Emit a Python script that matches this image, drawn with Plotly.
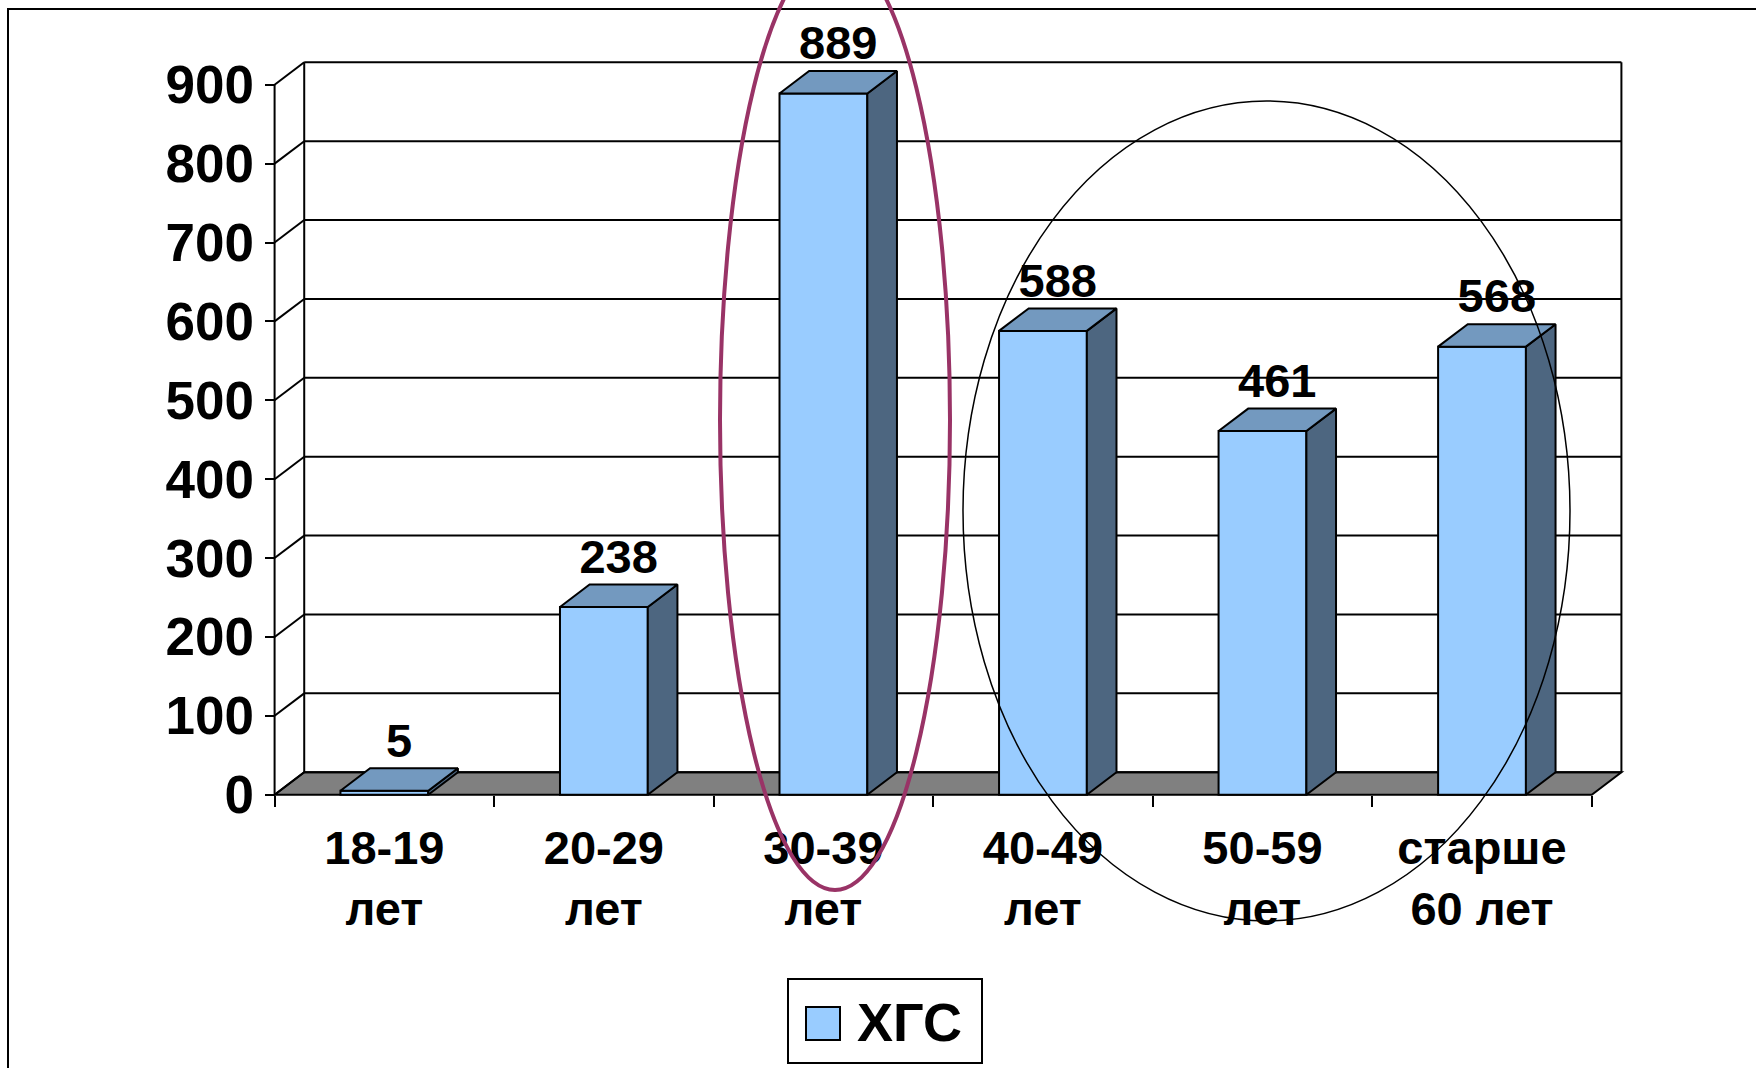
import plotly.graph_objects as go

# ---- data -------------------------------------------------------------
categories = ["18-19<br>лет", "20-29<br>лет", "30-39<br>лет",
              "40-49<br>лет", "50-59<br>лет", "старше<br>60 лет"]
values = [5, 238, 889, 588, 461, 568]
series_name = "ХГС"
y_ticks = [0, 100, 200, 300, 400, 500, 600, 700, 800, 900]

# ---- styling ----------------------------------------------------------
FONT = "Liberation Sans, Arial, sans-serif"
FRONT = "#99CCFF"
TOP = "#7399BF"
SIDE = "#4D6680"
FLOOR = "#808080"
PURPLE = "#993366"
LW = 2

W, H = 1756, 1068
M_L, M_R, M_T, M_B = 268, 128, 56, 267

BAR_W = 0.4          # bar width in category units
DX = 0.135           # depth of the 3-D box along x (category units)
DY = 28.5            # depth of the 3-D box along y (value units)
n = len(categories)
x_first, x_last = -0.5, n - 0.5
y_top = y_ticks[-1]
X_LO, X_HI = x_first - 0.03, x_last + DX + 0.03
Y_LO, Y_HI = -8, y_top + DY + 8

xs = list(range(n))


def px_to_paper(px, py):
    """Convert a pixel position on the page to paper coordinates."""
    pw = W - M_L - M_R
    ph = H - M_T - M_B
    return (px - M_L) / pw, (H - M_B - py) / ph


fig = go.Figure()

# front faces of the columns
fig.add_trace(go.Bar(
    x=xs, y=values, width=BAR_W, name=series_name,
    marker=dict(color=FRONT, line=dict(color="black", width=LW)),
    showlegend=False, hoverinfo="skip",
))

# top and side faces of the columns
top_x, top_y, side_x, side_y = [], [], [], []
for i, v in zip(xs, values):
    l, r = i - BAR_W / 2, i + BAR_W / 2
    top_x += [l, r, r + DX, l + DX, l, None]
    top_y += [v, v, v + DY, v + DY, v, None]
    side_x += [r, r + DX, r + DX, r, r, None]
    side_y += [0, DY, v + DY, v, 0, None]

fig.add_trace(go.Scatter(
    x=side_x, y=side_y, mode="lines", fill="toself", fillcolor=SIDE,
    line=dict(color="black", width=LW), showlegend=False, hoverinfo="skip",
))
fig.add_trace(go.Scatter(
    x=top_x, y=top_y, mode="lines", fill="toself", fillcolor=TOP,
    line=dict(color="black", width=LW), showlegend=False, hoverinfo="skip",
))

# value labels above each column
fig.add_trace(go.Scatter(
    x=[i + DX / 2 for i in xs], y=[v + DY for v in values],
    text=[str(v) for v in values], mode="text", textposition="top center",
    textfont=dict(family=FONT, size=47, color="black", weight="bold"),
    cliponaxis=False, showlegend=False, hoverinfo="skip",
))

# ---- 3-D frame: floor, walls and gridlines ----------------------------
shapes = []
shapes.append(dict(
    type="path", xref="x", yref="y", layer="below",
    path=(f"M {x_first},0 L {x_last},0 L {x_last + DX},{DY} "
          f"L {x_first + DX},{DY} Z"),
    fillcolor=FLOOR, line=dict(color="black", width=LW),
))


def seg(x0, y0, x1, y1):
    return dict(type="line", xref="x", yref="y", layer="below",
                x0=x0, y0=y0, x1=x1, y1=y1,
                line=dict(color="black", width=LW))


shapes.append(seg(x_first, 0, x_first, y_top))
shapes.append(seg(x_first + DX, DY, x_first + DX, y_top + DY))
shapes.append(seg(x_last + DX, DY, x_last + DX, y_top + DY))
for t in y_ticks:
    shapes.append(seg(x_first, t, x_first + DX, t + DY))
    shapes.append(seg(x_first + DX, t + DY, x_last + DX, t + DY))

# ---- outer frame ------------------------------------------------------
bx0, by0 = px_to_paper(8, 1080)
bx1, by1 = px_to_paper(1770, 9)
shapes.append(dict(type="rect", xref="paper", yref="paper",
                   x0=bx0, y0=by0, x1=bx1, y1=by1,
                   line=dict(color="black", width=LW)))

# ---- highlight ellipses -----------------------------------------------
ex0, ey0 = px_to_paper(720, 890)
ex1, ey1 = px_to_paper(950, -50)
shapes.append(dict(type="circle", xref="paper", yref="paper",
                   x0=ex0, y0=ey0, x1=ex1, y1=ey1,
                   line=dict(color=PURPLE, width=4)))
ex0, ey0 = px_to_paper(963, 921)
ex1, ey1 = px_to_paper(1570, 101)
shapes.append(dict(type="circle", xref="paper", yref="paper",
                   x0=ex0, y0=ey0, x1=ex1, y1=ey1,
                   line=dict(color="black", width=1.5)))

# ---- legend box -------------------------------------------------------
lx0, ly0 = px_to_paper(788, 1063)
lx1, ly1 = px_to_paper(982, 979)
shapes.append(dict(type="rect", xref="paper", yref="paper",
                   x0=lx0, y0=ly0, x1=lx1, y1=ly1, fillcolor="white",
                   line=dict(color="black", width=LW)))
sx0, sy0 = px_to_paper(806, 1040)
sx1, sy1 = px_to_paper(840, 1007)
shapes.append(dict(type="rect", xref="paper", yref="paper",
                   x0=sx0, y0=sy0, x1=sx1, y1=sy1, fillcolor=FRONT,
                   line=dict(color="black", width=LW)))
tx, ty = px_to_paper(855, 1022)
annotations = [dict(
    xref="paper", yref="paper", x=tx, y=ty, xanchor="left", yanchor="middle",
    text=series_name, showarrow=False,
    font=dict(family=FONT, size=54, color="black", weight="bold"),
)]

fig.update_layout(
    width=W, height=H,
    margin=dict(l=M_L, r=M_R, t=M_T, b=M_B, pad=0),
    paper_bgcolor="white", plot_bgcolor="white",
    showlegend=False,
    shapes=shapes, annotations=annotations,
    xaxis=dict(
        range=[X_LO, X_HI], tickmode="array", tickvals=xs, ticktext=categories,
        ticks="", showgrid=False, zeroline=False, showline=False,
        anchor="free", position=(0 - Y_LO) / (Y_HI - Y_LO),
        ticklabelstandoff=21,
        tickfont=dict(family=FONT, size=47, color="black", weight="bold"),
        minor=dict(tickmode="array", tickvals=[i - 0.5 for i in range(n + 1)],
                   ticks="outside", ticklen=11, tickwidth=LW,
                   tickcolor="black", showgrid=False),
        fixedrange=True,
    ),
    yaxis=dict(
        range=[Y_LO, Y_HI], tickmode="array", tickvals=y_ticks,
        ticks="outside", ticklen=10, tickwidth=LW, tickcolor="black",
        showgrid=False, zeroline=False, showline=False,
        anchor="free", position=(x_first - X_LO) / (X_HI - X_LO),
        ticklabelstandoff=0,
        tickfont=dict(family=FONT, size=53, color="black", weight="bold"),
        fixedrange=True,
    ),
)

fig.write_html("out.html")
